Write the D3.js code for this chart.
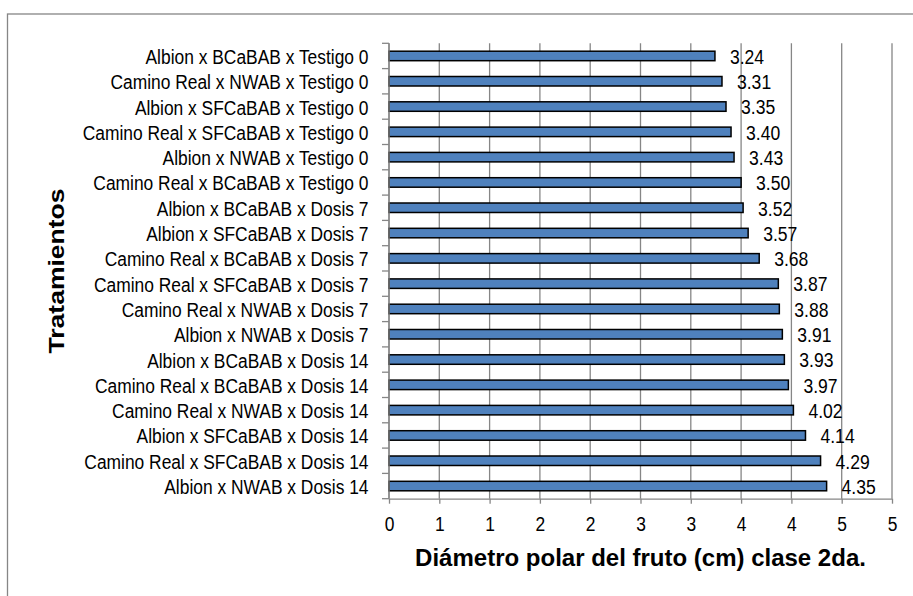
<!DOCTYPE html>
<html><head><meta charset="utf-8">
<script src="https://cdn.jsdelivr.net/npm/d3@7"></script>
<style>body{margin:0;background:#fff;} svg{display:block;}</style>
</head><body>
<svg id="chart" width="913" height="596"></svg>
<script>
const categories = [
  "Albion x BCaBAB x Testigo 0",
  "Camino Real x NWAB x Testigo 0",
  "Albion x SFCaBAB x Testigo 0",
  "Camino Real x SFCaBAB x Testigo 0",
  "Albion x NWAB x Testigo 0",
  "Camino Real x BCaBAB x Testigo 0",
  "Albion x BCaBAB x Dosis 7",
  "Albion x SFCaBAB x Dosis 7",
  "Camino Real x BCaBAB x Dosis 7",
  "Camino Real x SFCaBAB x Dosis 7",
  "Camino Real x NWAB x Dosis 7",
  "Albion x NWAB x Dosis 7",
  "Albion x BCaBAB x Dosis 14",
  "Camino Real x BCaBAB x Dosis 14",
  "Camino Real x NWAB x Dosis 14",
  "Albion x SFCaBAB x Dosis 14",
  "Camino Real x SFCaBAB x Dosis 14",
  "Albion x NWAB x Dosis 14"
];
const values = [3.24, 3.31, 3.35, 3.40, 3.43, 3.50, 3.52, 3.57, 3.68, 3.87, 3.88, 3.91, 3.93, 3.97, 4.02, 4.14, 4.29, 4.35];
const xTicks = [0, 0.5, 1, 1.5, 2, 2.5, 3, 3.5, 4, 4.5, 5];
const xTickLabels = ["0","1","1","2","2","3","3","4","4","5","5"];
const xTitle = "Diámetro polar del fruto (cm) clase 2da.";
const yTitle = "Tratamientos";

const W = 913, H = 596;
const m = {left: 389, right: 892, top: 43.3, bottom: 498.7};
const FONT = "'Liberation Sans', Arial, sans-serif";
const GRID = "#868686";

const svg = d3.select("#chart");
svg.append("rect").attr("width", W).attr("height", H).attr("fill", "#fff");
svg.append("rect").attr("x", 7.5).attr("y", 14).attr("width", 1000).attr("height", 1000)
  .attr("fill", "none").attr("stroke", GRID).attr("stroke-width", 1.3);

const x = d3.scaleLinear().domain([0, 5]).range([m.left, m.right]);
const y = d3.scaleBand().domain(categories).range([m.top, m.bottom]).padding(0);

// gridlines
svg.append("g").selectAll("line").data(xTicks).join("line")
  .attr("x1", d => x(d)).attr("x2", d => x(d))
  .attr("y1", m.top).attr("y2", m.bottom)
  .attr("stroke", GRID).attr("stroke-width", 1.3);

// bars
const barFrac = 0.375;
svg.append("g").selectAll("rect").data(values).join("rect")
  .attr("x", x(0))
  .attr("y", (d, i) => y(categories[i]) + y.bandwidth() * (1 - barFrac) / 2)
  .attr("width", d => x(d) - x(0))
  .attr("height", y.bandwidth() * barFrac)
  .attr("fill", "#4F81BD").attr("stroke", "#000").attr("stroke-width", 1.5);

// data labels
svg.append("g").selectAll("text").data(values).join("text")
  .attr("transform", (d, i) => `translate(${x(d) + 15},${y(categories[i]) + y.bandwidth() / 2}) scale(0.9,1)`)
  .attr("dy", "0.4em")
  .attr("font-family", FONT).attr("font-size", 19.5).attr("fill", "#000")
  .text(d => d3.format(".2f")(d));

// x axis
const xAxis = svg.append("g").attr("transform", `translate(0,${m.bottom})`)
  .call(d3.axisBottom(x).tickValues(xTicks).tickFormat((d, i) => xTickLabels[i])
    .tickSize(5).tickSizeOuter(0).tickPadding(13));
xAxis.select(".domain").attr("stroke", GRID).attr("stroke-width", 1.3);
xAxis.selectAll(".tick line").attr("stroke", GRID).attr("stroke-width", 1.3);
xAxis.selectAll(".tick text").attr("font-family", FONT).attr("font-size", 20)
  .attr("fill", "#000").attr("transform", "scale(0.87,1)");

// y axis (category boundaries)
const yAxis = svg.append("g");
yAxis.append("line").attr("x1", m.left).attr("x2", m.left).attr("y1", m.top).attr("y2", m.bottom)
  .attr("stroke", GRID).attr("stroke-width", 1.3);
const bounds = categories.map(c => y(c)).concat([m.bottom]);
yAxis.selectAll("line.tk").data(bounds).join("line").attr("class", "tk")
  .attr("x1", m.left - 7).attr("x2", m.left).attr("y1", d => d).attr("y2", d => d)
  .attr("stroke", GRID).attr("stroke-width", 1.3);
yAxis.selectAll("text").data(categories).join("text")
  .attr("transform", d => `translate(${m.left - 20.5},${y(d) + y.bandwidth() / 2}) scale(0.87,1)`)
  .attr("dy", "0.4em").attr("text-anchor", "end")
  .attr("font-family", FONT).attr("font-size", 20).attr("fill", "#000")
  .text(d => d);

// axis titles
svg.append("text")
  .attr("transform", `translate(${(m.left + m.right) / 2},566)`)
  .attr("text-anchor", "middle").attr("font-family", FONT).attr("font-weight", "bold")
  .attr("font-size", 24).attr("fill", "#000").text(xTitle);

svg.append("text")
  .attr("transform", `translate(64.3,${(m.top + m.bottom) / 2}) rotate(-90) scale(1,0.8)`)
  .attr("text-anchor", "middle").attr("font-family", FONT).attr("font-weight", "bold")
  .attr("font-size", 26.5).attr("fill", "#000").text(yTitle);
</script>
</body></html>
